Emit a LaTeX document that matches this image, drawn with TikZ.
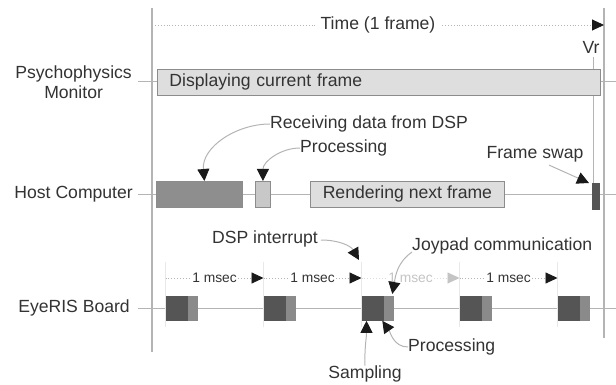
\documentclass[tikz,border=0pt]{standalone}
\usepackage{fontspec}
\setmainfont{Liberation Sans}
\usetikzlibrary{arrows.meta,calc}
\definecolor{txt}{HTML}{333333}
\definecolor{ln}{HTML}{B4B4B4}
\definecolor{edge}{HTML}{8C8C8C}
\definecolor{fillA}{HTML}{DEDEDE}
\definecolor{fillB}{HTML}{8E8E8E}
\definecolor{fillC}{HTML}{C8C8C8}
\definecolor{darkb}{HTML}{555555}
\definecolor{midb}{HTML}{8A8A8A}
\definecolor{tipc}{HTML}{1A1A1A}
\definecolor{faint}{HTML}{C4C4C4}
\tikzset{
  lbl/.style={text=txt, font=\fontsize{17.6}{20}\selectfont, inner sep=0pt},
  small/.style={text=txt, font=\fontsize{13.8}{16}\selectfont, inner sep=1pt},
  axis/.style={draw=ln, line width=1.2pt},
  row/.style={draw=ln, line width=1pt},
  tickline/.style={draw=ln!120!black!60, line width=0.9pt},
  box/.style={draw=edge, line width=0.8pt, inner sep=0pt, anchor=north west, text=txt, font=\fontsize{17.6}{20}\selectfont},
  ann/.style={draw=ln, line width=1pt, -{Triangle[length=12pt,width=12pt,color=tipc]}},
  dots/.style={draw=ln, dotted, line width=0.9pt, -{Triangle[length=12pt,width=11pt,color=tipc]}},
  fdots/.style={draw=faint!60, dotted, line width=0.9pt, -{Triangle[length=12pt,width=11pt,color=faint]}},
}
\begin{document}
\begin{tikzpicture}[x=1pt,y=-1pt]
\useasboundingbox (0,0) rectangle (616,385);
% frame axes
\coordinate (Ltop) at (152,8); \coordinate (Lbot) at (152,352);
\coordinate (Rtop) at (604,8); \coordinate (Rbot) at (604,338);
\draw[axis] (Ltop) -- (Lbot);
\draw[axis] (Rtop) -- (Rbot);
% time arrow
\coordinate (T0) at (152,25); \coordinate (T1) at (604,25);
\draw[dots] (T0) -- node[lbl, fill=white, inner xsep=6pt, inner ysep=2pt] (time) {Time (1 frame)} (T1);
% Vr
\node[lbl] (vr) at (591,47) {Vr};
\coordinate (vrt) at (593,57); \coordinate (vrb) at (593,208);
\draw[row] (vrt) -- (vrb);

% Psychophysics monitor row
\node[lbl, align=center, anchor=east] (psy) at (132,82) {Psychophysics\\Monitor};
\coordinate (psyS) at (138,82); \coordinate (psyE) at (616,82);
\draw[row] (psyS) -- (psyE);
\node[box, fill=fillA, minimum height=26pt, text width=419pt, inner xsep=12pt, align=left] (disp) at (157,69) {Displaying current frame};

% Host computer row
\node[lbl, anchor=east] (host) at (133,194) {Host Computer};
\coordinate (hostS) at (138,194); \coordinate (hostE) at (616,194);
\draw[row] (hostS) -- (hostE);
\node[box, fill=fillB, minimum width=86pt, minimum height=26pt] (recv) at (156,181) {};
\node[box, fill=fillC, minimum width=15pt, minimum height=26pt] (proc) at (255,181) {};
\node[box, fill=fillA, minimum width=194pt, minimum height=26pt] (rend) at (310,181) {Rendering next frame};
\node[box, fill=darkb, draw=darkb, minimum width=7pt, minimum height=26pt] (swap) at (592,183) {};

\node[lbl, anchor=west] (recL) at (270,124) {Receiving data from DSP};
\draw[ann] (recL.west) to[out=180,in=95] ($(recv.north)+(5,0)$);
\node[lbl, anchor=west] (procL) at (300,148) {Processing};
\draw[ann] (procL.west) to[out=180,in=90] (proc.north);
\node[lbl] (swapL) at (535,154) {Frame swap};
\draw[ann] ($(swapL.south)+(14,3)$) -- ($(swap.north west)+(-3,0)$);

% EyeRIS board row
\node[lbl, anchor=east] (eye) at (130,308) {EyeRIS Board};
\coordinate (eyeS) at (138,308); \coordinate (eyeE) at (616,308);
\draw[row] (eyeS) -- (eyeE);
\foreach \i in {0,...,4}{
  \pgfmathsetmacro\xx{165.5+98*\i}
  \coordinate (tk\i t) at (\xx,262);
  \coordinate (tk\i b) at (\xx,327);
  \coordinate (tk\i m) at (\xx,278);
  \draw[tickline] (tk\i t) -- (tk\i b);
  \node[box, fill=darkb, draw=darkb, minimum width=22pt, minimum height=24pt] (sa\i) at (\xx,296) {};
  \node[box, fill=midb, draw=midb, minimum width=9pt, minimum height=24pt] (pr\i) at (\xx+22,296) {};
}
\draw[dots] (tk0m) -- node[small, fill=white] (ms0) {1 msec} (tk1m);
\draw[dots] (tk1m) -- node[small, fill=white] (ms1) {1 msec} (tk2m);
\draw[fdots] (tk2m) -- node[small, fill=white, text=faint] (ms2) {1 msec} (tk3m);
\draw[dots] (tk3m) -- node[small, fill=white] (ms3) {1 msec} (tk4m);

\node[lbl, anchor=east] (dspL) at (318,239) {DSP interrupt};
\coordinate (dspT) at (359,260);
\draw[ann] ($(dspL.east)+(3,1)$) to[out=0,in=120] (dspT);
\node[lbl, anchor=west] (joyL) at (412,246) {Joypad communication};
\draw[ann] ($(joyL.west)+(0,6)$) to[out=215,in=80] ($(pr2.north east)+(-1,-2)$);
\node[lbl] (samL) at (365,374) {Sampling};
\draw[ann] (samL.north) to[out=92,in=-90] ($(sa2.south west)+(5,0)$);
\node[lbl, anchor=west] (proc2L) at (408,347) {Processing};
\draw[ann] (proc2L.west) to[out=180,in=-55] ($(sa2.south east)+(-2,0)$);
\end{tikzpicture}
\end{document}
